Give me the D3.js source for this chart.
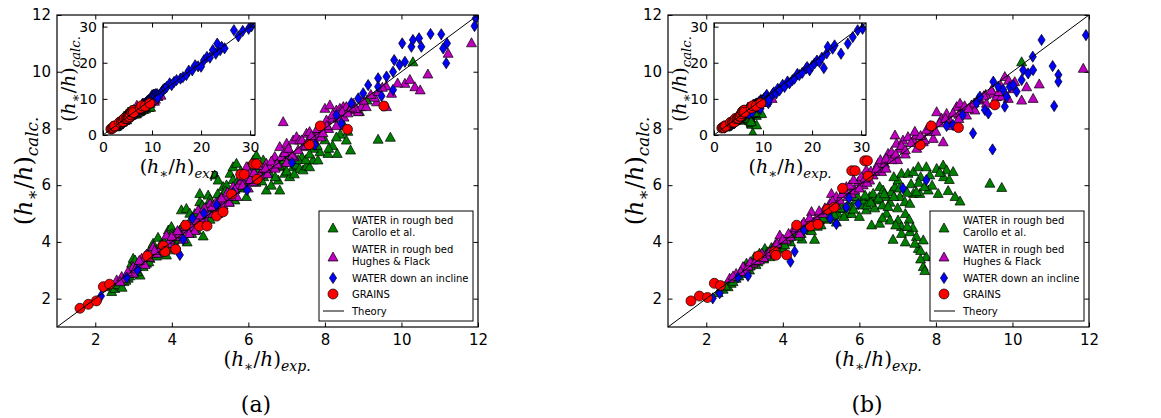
<!DOCTYPE html>
<html><head><meta charset="utf-8">
<script src="https://cdn.jsdelivr.net/npm/d3@7"></script>
<style>body{margin:0;background:#fff}</style>
</head><body><svg id="c" width="1161" height="418"></svg>
<script>
// ---------------- DATA ----------------
const mainTicks = [2, 4, 6, 8, 10, 12];
const insetTicks = [0, 10, 20, 30];
const mainDomain = [1, 12];
const insetDomain = [0, 31];
const theoryLine = [[0, 0], [31, 31]];
const legendLabels = [["WATER in rough bed", "Carollo et al."], ["WATER in rough bed", "Hughes & Flack"], ["WATER down an incline"], ["GRAINS"], ["Theory"]];
const panelCaptions = ["(a)", "(b)"];
const insetXSub = ["exp", "exp."];

const redExp   = [1.60,1.82,2.03,2.21,2.37,3.36,3.78,3.82,4.10,4.36,4.72,4.92,5.17,5.34,5.56,5.80,5.89,6.14,6.21,6.23,7.59,7.88,8.59,9.54];
const redCalcA = [1.66,1.80,1.92,2.42,2.51,3.50,3.86,3.66,3.74,4.59,4.56,4.56,4.91,5.06,5.68,6.38,6.38,6.75,6.75,6.21,7.43,8.09,7.97,8.79];
const redCalcB = [1.92,2.09,2.04,2.54,2.46,3.50,3.66,3.53,3.54,4.59,4.56,4.62,5.15,5.22,5.89,6.51,6.51,6.86,6.86,6.32,7.42,8.09,8.03,8.83];

const greenA = [[2.30,2.42],[2.43,2.25],[2.51,2.36],[2.64,2.45],[2.75,2.60],[2.86,2.72],[2.95,3.25],[2.99,3.42],[3.04,3.36],[3.08,3.13],[3.17,2.83],[3.25,3.13],[3.34,3.25],[3.43,3.42],[3.47,3.83],[3.51,3.95],[3.64,4.16],[3.67,3.77],[3.78,3.60],[3.86,3.54],[3.95,3.72],[3.91,4.42],[3.99,4.54],[4.04,4.07],[4.08,4.30],[4.21,4.42],[4.25,5.13],[4.38,5.18],[4.47,5.01],[4.52,4.30],[4.65,4.42],[4.73,5.42],[4.73,5.71],[4.82,4.21],[4.86,5.01],[4.95,5.65],[5.04,5.36],[5.12,6.36],[5.21,6.18],[5.25,5.48],[5.34,5.95],[5.43,6.01],[5.52,6.42],[5.60,6.65],[5.65,5.48],[5.69,6.77],[5.78,5.95],[5.86,6.42],[5.95,5.60],[5.99,6.65],[6.13,6.89],[6.21,7.06],[6.30,6.42],[6.39,6.89],[6.47,5.83],[6.56,6.42],[6.65,6.89],[6.78,6.18],[6.82,5.83],[6.91,6.65],[6.95,6.42],[7.00,7.01],[7.08,6.30],[7.17,6.65],[7.26,6.71],[7.34,6.59],[7.43,6.54],[7.52,6.68],[7.60,6.65],[7.69,6.89],[7.82,6.89],[7.87,7.18],[8.08,7.12],[8.32,7.12],[8.56,7.59],[8.67,7.24],[9.39,7.62],[9.71,7.69],[3.20,3.30],[3.60,3.50],[4.10,3.90],[4.40,4.00],[4.60,4.60],[5.00,4.80],[5.30,5.20],[5.50,5.40],[5.80,5.90],[6.00,6.20],[6.20,6.10],[6.40,6.30],[6.60,6.00],[6.90,6.90],[7.10,6.90],[7.40,7.00],[7.70,7.30],[8.00,7.60],[8.20,7.40],[8.40,7.80],[8.50,8.10],[8.90,8.60],[9.10,9.00],[10.30,10.35],[2.60,2.50],[2.70,2.40],[2.80,2.65],[2.90,2.80],[3.00,3.00],[3.10,2.95],[3.30,3.50],[3.40,3.30],[3.50,3.60],[3.70,3.90],[3.80,4.00],[3.90,3.80],[4.00,4.30],[4.20,4.10],[4.30,4.60],[4.50,4.80],[4.60,5.00],[4.70,4.70],[4.80,5.30],[4.90,5.20],[5.00,5.50],[5.10,5.10],[5.20,5.70],[5.30,5.60],[5.40,5.80],[5.50,5.70],[5.60,6.20],[5.70,6.10],[5.80,6.50],[5.90,6.10],[6.00,6.40],[6.10,6.60],[6.25,6.50],[6.35,6.15],[6.50,6.60],[6.70,6.30],[6.80,6.70],[7.00,6.50],[7.20,6.40],[7.30,6.90],[7.50,6.90],[7.60,7.10],[7.80,7.40],[8.10,7.30],[8.30,7.70],[8.60,7.90]];

const magentaA = [[2.56,2.66],[2.69,2.78],[2.77,2.72],[2.91,2.89],[2.99,3.13],[3.12,3.25],[3.21,3.42],[3.34,3.57],[3.51,3.83],[3.60,3.60],[3.69,3.77],[3.86,4.24],[3.95,4.07],[4.08,4.19],[4.21,4.30],[4.38,4.42],[4.52,4.54],[4.56,4.83],[4.69,5.13],[4.78,4.77],[4.91,5.01],[5.00,5.36],[5.08,5.01],[5.17,5.18],[5.25,5.48],[5.34,5.30],[5.43,5.60],[5.60,5.95],[5.73,6.01],[5.82,6.18],[5.95,6.65],[6.04,6.42],[6.13,6.12],[6.30,6.36],[6.39,6.59],[6.47,6.77],[6.56,6.65],[6.69,7.01],[6.82,7.36],[6.87,7.01],[6.91,8.24],[7.00,7.48],[7.08,7.18],[7.17,7.59],[7.26,7.71],[7.34,7.59],[7.43,7.36],[7.52,7.83],[7.60,7.89],[7.74,7.71],[7.82,7.83],[7.91,8.00],[8.00,8.71],[8.04,8.30],[8.13,8.83],[8.21,8.36],[8.30,8.65],[8.39,8.71],[8.48,8.77],[8.56,8.77],[8.65,8.65],[8.74,8.89],[8.87,8.59],[8.95,8.77],[9.08,8.77],[9.35,8.94],[9.61,8.77],[9.74,9.24],[10.09,9.59],[10.22,9.73],[10.35,9.47],[10.49,9.36],[10.69,9.92],[11.22,10.65],[11.83,11.02],[3.00,2.90],[3.30,3.20],[3.80,3.70],[4.30,4.10],[4.60,4.40],[4.90,4.70],[5.20,5.00],[5.50,5.40],[5.70,5.60],[6.00,5.90],[6.20,6.30],[6.50,6.40],[6.70,6.60],[7.00,6.80],[7.20,7.00],[7.50,7.40],[7.70,7.60],[7.90,7.70],[8.10,8.00],[8.30,8.10],[8.50,8.40],[8.80,8.70],[9.00,9.00],[9.30,9.10],[9.60,9.50],[9.90,9.60],[2.65,2.60],[2.85,2.95],[3.05,3.05],[3.15,3.35],[3.40,3.45],[3.55,3.70],[3.75,3.90],[3.90,3.95],[4.00,4.20],[4.15,4.40],[4.35,4.55],[4.45,4.30],[4.65,4.75],[4.75,4.95],[4.85,5.20],[5.05,5.25],[5.15,5.40],[5.30,5.55],[5.45,5.75],[5.55,5.60],[5.65,5.85],[5.85,6.00],[5.90,6.30],[6.05,6.20],[6.15,6.45],[6.25,6.70],[6.45,6.60],[6.60,6.85],[6.75,6.75],[6.95,7.15],[7.05,7.30],[7.15,7.05],[7.30,7.25],[7.40,7.60],[7.55,7.55],[7.65,7.75],[7.80,8.00],[7.95,7.85],[8.05,8.10],[8.20,8.50],[8.35,8.40],[8.45,8.60],[8.60,8.55],[8.70,8.75],[9.20,9.20],[9.40,9.30],[9.50,9.45]];

const blueA = [[2.15,2.09],[2.82,2.74],[3.10,3.01],[4.21,3.54],[4.30,4.09],[4.54,4.83],[4.84,5.01],[5.17,5.30],[5.60,5.74],[5.97,5.83],[7.14,6.79],[7.74,7.42],[8.30,8.47],[8.43,8.18],[8.69,8.89],[8.87,9.06],[9.00,9.24],[9.13,9.53],[9.39,9.77],[9.48,9.14],[9.61,9.83],[9.39,9.47],[9.78,9.36],[9.78,10.00],[9.81,10.41],[9.95,10.24],[10.02,11.00],[10.09,10.35],[10.26,10.88],[10.30,11.12],[10.46,11.18],[10.52,10.88],[10.76,11.33],[11.04,11.32],[11.09,10.82],[11.19,11.00],[11.17,10.30],[11.94,11.88],[11.91,11.61],[12.2,12.4],[12.5,12.8],[12.7,12.9],[13.0,13.3],[13.6,14.3],[14.0,13.8],[14.5,14.7],[15.0,15.2],[15.8,15.6],[16.3,16.0],[17.0,16.6],[17.5,17.8],[18.2,17.9],[18.8,19.3],[19.4,19.0],[20.0,18.9],[20.6,20.7],[21.2,21.6],[21.8,21.4],[22.4,23.5],[23.0,22.5],[23.3,25.3],[23.9,23.5],[24.2,24.4],[24.8,24.0],[26.7,29.0],[27.6,27.3],[28.5,28.8],[29.7,29.4],[30.3,30.1]];

const greenB = [[2.31,2.21],[2.44,2.33],[2.57,2.42],[2.65,2.54],[2.78,2.72],[2.92,2.89],[3.05,3.25],[3.13,3.01],[3.26,3.48],[3.39,3.60],[3.53,3.77],[3.66,3.48],[3.74,3.60],[3.92,3.89],[4.09,4.07],[4.27,4.24],[4.35,4.42],[4.48,4.30],[4.62,4.42],[4.83,4.09],[4.79,4.66],[4.96,4.77],[5.14,4.95],[5.31,4.89],[5.44,5.01],[5.57,5.18],[5.66,5.01],[5.79,5.24],[5.92,5.48],[6.05,5.30],[6.10,5.48],[6.18,5.13],[6.27,5.60],[6.36,5.71],[6.45,5.48],[6.53,5.95],[6.62,5.83],[6.71,5.60],[6.84,5.77],[6.93,5.95],[7.01,6.18],[7.10,6.42],[7.27,6.42],[7.41,6.48],[7.54,6.65],[7.75,6.65],[8.02,6.59],[8.19,6.71],[8.28,6.54],[8.45,6.48],[7.84,6.36],[7.41,5.71],[7.58,5.71],[7.80,5.83],[8.06,5.71],[8.32,5.81],[8.50,5.60],[8.63,5.44],[7.06,5.60],[7.19,5.42],[7.32,5.36],[7.49,5.77],[6.32,4.60],[6.53,4.66],[6.71,5.01],[6.80,4.77],[7.01,4.77],[7.10,4.54],[6.88,4.09],[7.10,4.30],[7.32,4.36],[7.49,4.19],[7.54,3.77],[7.67,4.07],[7.75,3.48],[7.67,3.13],[7.71,2.99],[7.93,3.48],[9.41,6.07],[9.72,5.92],[10.24,10.35],[3.00,2.95],[3.30,3.20],[3.50,3.40],[3.80,3.70],[4.00,3.80],[4.20,4.00],[4.50,4.10],[4.70,4.50],[5.00,4.60],[5.20,4.80],[5.40,4.70],[5.60,4.90],[5.80,5.00],[6.00,4.90],[6.20,5.30],[6.40,5.20],[6.60,5.30],[6.80,5.40],[7.00,5.20],[7.20,5.00],[7.30,4.80],[6.90,6.30],[7.60,6.30],[8.20,6.30],[7.90,6.00],[7.40,4.50],[7.20,4.00],[7.60,3.40],[7.90,0.60],[8.70,2.80],[2.50,2.45],[2.70,2.60],[2.85,2.80],[3.00,3.10],[3.15,3.15],[3.35,3.30],[3.45,3.55],[3.60,3.65],[3.70,3.80],[3.85,3.75],[3.95,4.00],[4.05,3.90],[4.15,4.15],[4.30,4.35],[4.40,4.20],[4.55,4.45],[4.65,4.60],[4.75,4.40],[4.90,4.55],[5.05,4.85],[5.25,5.05],[5.35,4.95],[5.50,5.20],[5.70,5.30],[5.85,5.15],[5.95,5.60],[6.15,5.65],[6.30,5.40],[6.50,5.55],[6.65,5.70],[6.75,5.25],[6.90,5.60],[7.05,5.90],[7.25,5.75],[7.35,6.05],[7.55,6.10],[7.70,5.95],[8.10,6.45],[8.35,6.20],[6.60,4.85],[6.95,4.60],[7.25,4.55],[7.45,3.95],[7.60,3.70]];

const magentaB = [[2.61,2.72],[2.78,2.89],[2.96,3.13],[3.05,3.01],[3.22,3.25],[3.39,3.36],[3.57,3.54],[3.74,3.77],[3.92,4.24],[4.09,4.07],[4.27,4.42],[4.44,4.30],[4.62,4.54],[4.75,5.07],[4.88,4.83],[5.05,5.01],[5.23,5.36],[5.27,5.71],[5.40,5.60],[5.49,5.48],[5.66,5.95],[5.79,5.71],[5.88,5.83],[5.97,6.12],[6.10,6.01],[6.18,6.54],[6.27,6.18],[6.36,6.36],[6.49,6.77],[6.58,6.48],[6.66,6.77],[6.75,7.12],[6.84,7.18],[6.93,7.77],[6.97,7.48],[7.06,7.30],[7.14,7.59],[7.27,7.71],[7.41,7.59],[7.49,7.77],[7.67,7.53],[7.84,7.89],[7.93,7.65],[8.02,8.59],[8.15,8.36],[8.19,7.53],[8.28,8.53],[8.36,8.30],[8.54,8.77],[8.63,8.89],[8.71,8.59],[8.80,8.47],[8.93,8.83],[9.02,8.65],[9.15,9.00],[9.32,8.89],[9.50,9.24],[9.58,9.12],[9.72,9.14],[9.80,9.83],[9.89,9.06],[10.06,9.65],[10.24,9.00],[10.37,9.47],[10.54,9.06],[10.70,9.57],[11.85,10.12],[3.10,3.15],[3.50,3.45],[3.80,3.90],[4.20,4.20],[4.50,4.60],[4.80,4.70],[5.10,5.20],[5.40,5.30],[5.70,5.60],[6.00,5.90],[6.20,6.10],[6.40,6.50],[6.70,6.60],[7.00,6.90],[7.20,7.10],[7.50,7.30],[7.70,7.60],[8.00,7.90],[8.40,8.10],[8.60,8.50],[9.00,8.90],[9.30,9.20],[9.70,9.50],[10.00,9.40],[2.70,2.80],[2.90,2.95],[3.15,3.30],[3.30,3.35],[3.45,3.60],[3.65,3.65],[3.85,3.95],[4.00,4.10],[4.15,4.30],[4.35,4.50],[4.55,4.70],[4.70,4.85],[4.95,5.10],[5.15,5.15],[5.30,5.45],[5.55,5.70],[5.60,5.85],[5.75,6.00],[5.85,6.20],[6.05,6.30],[6.15,6.25],[6.30,6.50],[6.45,6.60],[6.55,6.90],[6.70,6.95],[6.85,6.90],[6.95,7.10],[7.10,7.40],[7.20,7.25],[7.35,7.50],[7.45,7.90],[7.60,7.75],[7.75,7.95],[7.85,8.10],[8.10,8.20],[8.25,8.35],[8.45,8.55],[8.60,8.35],[8.75,8.80],[8.85,8.70],[9.10,9.05],[9.25,9.15],[9.45,9.35],[9.65,9.30],[9.90,9.70]];

const blueB = [[2.17,2.01],[2.35,2.19],[2.83,2.75],[3.09,2.80],[4.20,3.30],[4.31,3.66],[4.55,4.42],[5.24,4.83],[5.40,4.63],[5.66,5.22],[5.73,5.54],[5.97,5.34],[7.14,5.89],[7.75,6.18],[8.28,8.09],[8.45,8.12],[8.70,8.47],[8.97,7.83],[9.06,8.89],[9.15,9.12],[9.28,8.65],[9.37,8.53],[9.48,7.26],[9.50,9.65],[9.63,9.47],[9.76,9.36],[9.80,8.77],[9.85,9.12],[9.93,9.47],[10.02,9.53],[10.11,9.30],[10.24,9.71],[10.28,10.06],[10.41,9.94],[10.54,10.06],[10.53,10.53],[10.76,11.12],[11.05,10.20],[11.09,8.79],[11.20,9.89],[11.20,9.65],[11.92,11.29],[12.2,11.8],[12.7,11.5],[13.0,12.8],[13.4,12.4],[14.0,13.9],[14.4,13.3],[15.0,14.8],[15.4,14.3],[16.0,15.2],[16.4,15.6],[17.0,16.9],[17.4,16.6],[18.0,17.2],[18.8,18.4],[19.0,18.8],[19.5,17.9],[20.0,19.1],[20.5,19.8],[21.0,20.6],[21.5,20.2],[22.0,21.4],[22.4,18.5],[23.0,22.6],[23.2,24.4],[24.2,23.9],[24.6,24.8],[25.9,22.5],[27.3,25.3],[28.3,27.1],[29.3,29.0],[30.3,29.4]];

// ---------------- DRAWING ----------------
const svg = d3.select("#c");
const COLORS = {green: "#008000", magenta: "#bf00bf", blue: "#0000ff", red: "#ff0000"};
const tri = s => `M0,${-s}L${s},${s*0.8}L${-s},${s*0.8}Z`;
const SHAPES = {
  tri: tri(5.0),
  dia: "M0,-5.6L3.6,0L0,5.6L-3.6,0Z",
  circ: d3.symbol().type(d3.symbolCircle).size(Math.PI * 5 * 5)()
};

const panels = [
  {ox: 0, green: greenA, magenta: magentaA, blue: blueA, red: redExp.map((x, i) => [x, redCalcA[i]]), isub: insetXSub[0], cap: panelCaptions[0]},
  {ox: 611, green: greenB, magenta: magentaB, blue: blueB, red: redExp.map((x, i) => [x, redCalcB[i]]), isub: insetXSub[1], cap: panelCaptions[1]}
];

function mathLabel(g, x, y, sub, size, rot) {
  const t = g.append("text")
    .attr("transform", `translate(${x},${y})` + (rot ? " rotate(-90)" : ""))
    .attr("text-anchor", "middle")
    .attr("font-family", "DejaVu Serif")
    .attr("font-size", size).attr("fill", "#000");
  const ss = size * 0.7, sh = size * 0.27;
  t.append("tspan").text("(");
  t.append("tspan").attr("font-style", "italic").text("h");
  t.append("tspan").attr("font-size", ss).attr("dy", sh).text("∗");
  t.append("tspan").attr("dy", -sh).text("/");
  t.append("tspan").attr("font-style", "italic").text("h");
  t.append("tspan").text(")");
  t.append("tspan").attr("font-size", ss).attr("font-style", "italic").attr("dy", sh).text(sub);
}

function drawAxes(g, x, y, ticks, box, fs, uid, data) {
  const [l, r, t, b] = box;
  g.append("rect").attr("x", l).attr("y", t).attr("width", r - l).attr("height", b - t).attr("fill", "#fff");
  const clipId = "clip" + uid;
  g.append("clipPath").attr("id", clipId).append("rect").attr("x", l).attr("y", t).attr("width", r - l).attr("height", b - t);
  const plot = g.append("g").attr("clip-path", `url(#${clipId})`);
  const series = [["green", "tri"], ["magenta", "tri"], ["blue", "dia"], ["red", "circ"]];
  series.forEach(([c, s]) => {
    plot.append("g").selectAll("path").data(data[c]).join("path")
      .attr("d", SHAPES[s])
      .attr("transform", d => `translate(${x(d[0])},${y(d[1])})`)
      .attr("fill", COLORS[c]).attr("stroke", "#000").attr("stroke-width", 0.7);
  });
  plot.append("path").datum(theoryLine)
    .attr("d", d3.line().x(d => x(d[0])).y(d => y(d[1])))
    .attr("stroke", "#000").attr("stroke-width", 1).attr("fill", "none");
  const tl = 4.5;
  const mk = (axis, tr) => g.append("g").attr("transform", tr).call(axis)
    .call(s => s.select(".domain").remove());
  const bottom = mk(d3.axisBottom(x).tickValues(ticks).tickSize(-tl).tickPadding(7).tickFormat(d3.format("d")), `translate(0,${b})`);
  const left = mk(d3.axisLeft(y).tickValues(ticks).tickSize(-tl).tickPadding(6).tickFormat(d3.format("d")), `translate(${l},0)`);
  mk(d3.axisTop(x).tickValues(ticks).tickSize(-tl).tickFormat(""), `translate(0,${t})`);
  mk(d3.axisRight(y).tickValues(ticks).tickSize(-tl).tickFormat(""), `translate(${r},0)`);
  g.selectAll(".tick line").attr("stroke", "#000").attr("stroke-width", 1);
  [bottom, left].forEach(a => a.selectAll("text").attr("font-family", "DejaVu Sans").attr("font-size", fs).attr("fill", "#000"));
  g.append("rect").attr("x", l).attr("y", t).attr("width", r - l).attr("height", b - t)
    .attr("fill", "none").attr("stroke", "#000").attr("stroke-width", 1.2);
}

panels.forEach((p, i) => {
  const g = svg.append("g").attr("transform", `translate(${p.ox},0)`);
  const M = [57, 478, 15, 327];
  const xM = d3.scaleLinear().domain(mainDomain).range([M[0], M[1]]);
  const yM = d3.scaleLinear().domain(mainDomain).range([M[3], M[2]]);
  drawAxes(g, xM, yM, mainTicks, M, 15, "m" + i, p);
  mathLabel(g, 267, 366, "exp.", 20, false);
  mathLabel(g, 32, 171, "calc.", 24, true);

  const lg = g.append("g");
  lg.append("rect").attr("x", 319).attr("y", 211).attr("width", 154).attr("height", 110)
    .attr("fill", "#fff").attr("stroke", "#000").attr("stroke-width", 1);
  const rows = [
    {c: "green", s: "tri", my: 228, ty: [224, 236]},
    {c: "magenta", s: "tri", my: 257, ty: [253, 265]},
    {c: "blue", s: "dia", my: 278, ty: [282]},
    {c: "red", s: "circ", my: 294, ty: [298]},
    {c: null, s: null, my: 311, ty: [315]}
  ];
  rows.forEach((r, k) => {
    if (r.c) {
      lg.append("path").attr("d", SHAPES[r.s]).attr("transform", `translate(333,${r.my})`)
        .attr("fill", COLORS[r.c]).attr("stroke", "#000").attr("stroke-width", 0.7);
    } else {
      lg.append("line").attr("x1", 323).attr("x2", 344).attr("y1", r.my).attr("y2", r.my)
        .attr("stroke", "#000").attr("stroke-width", 1);
    }
    legendLabels[k].forEach((txt, j) => {
      lg.append("text").attr("x", 352).attr("y", r.ty[j]).attr("font-family", "DejaVu Sans")
        .attr("font-size", 10).attr("fill", "#000").text(txt);
    });
  });

  const I = [103, 255, 23, 135];
  const xI = d3.scaleLinear().domain(insetDomain).range([I[0], I[1]]);
  const yI = d3.scaleLinear().domain(insetDomain).range([I[3], I[2]]);
  drawAxes(g, xI, yI, insetTicks, I, 14, "i" + i, p);
  mathLabel(g, 179, 173, p.isub, 19, false);
  mathLabel(g, 75, 79, "calc.", 19, true);

  g.append("text").attr("x", 256).attr("y", 412).attr("text-anchor", "middle")
    .attr("font-family", "DejaVu Serif").attr("font-size", 22).attr("fill", "#000").text(p.cap);
});
</script>
</body></html>
